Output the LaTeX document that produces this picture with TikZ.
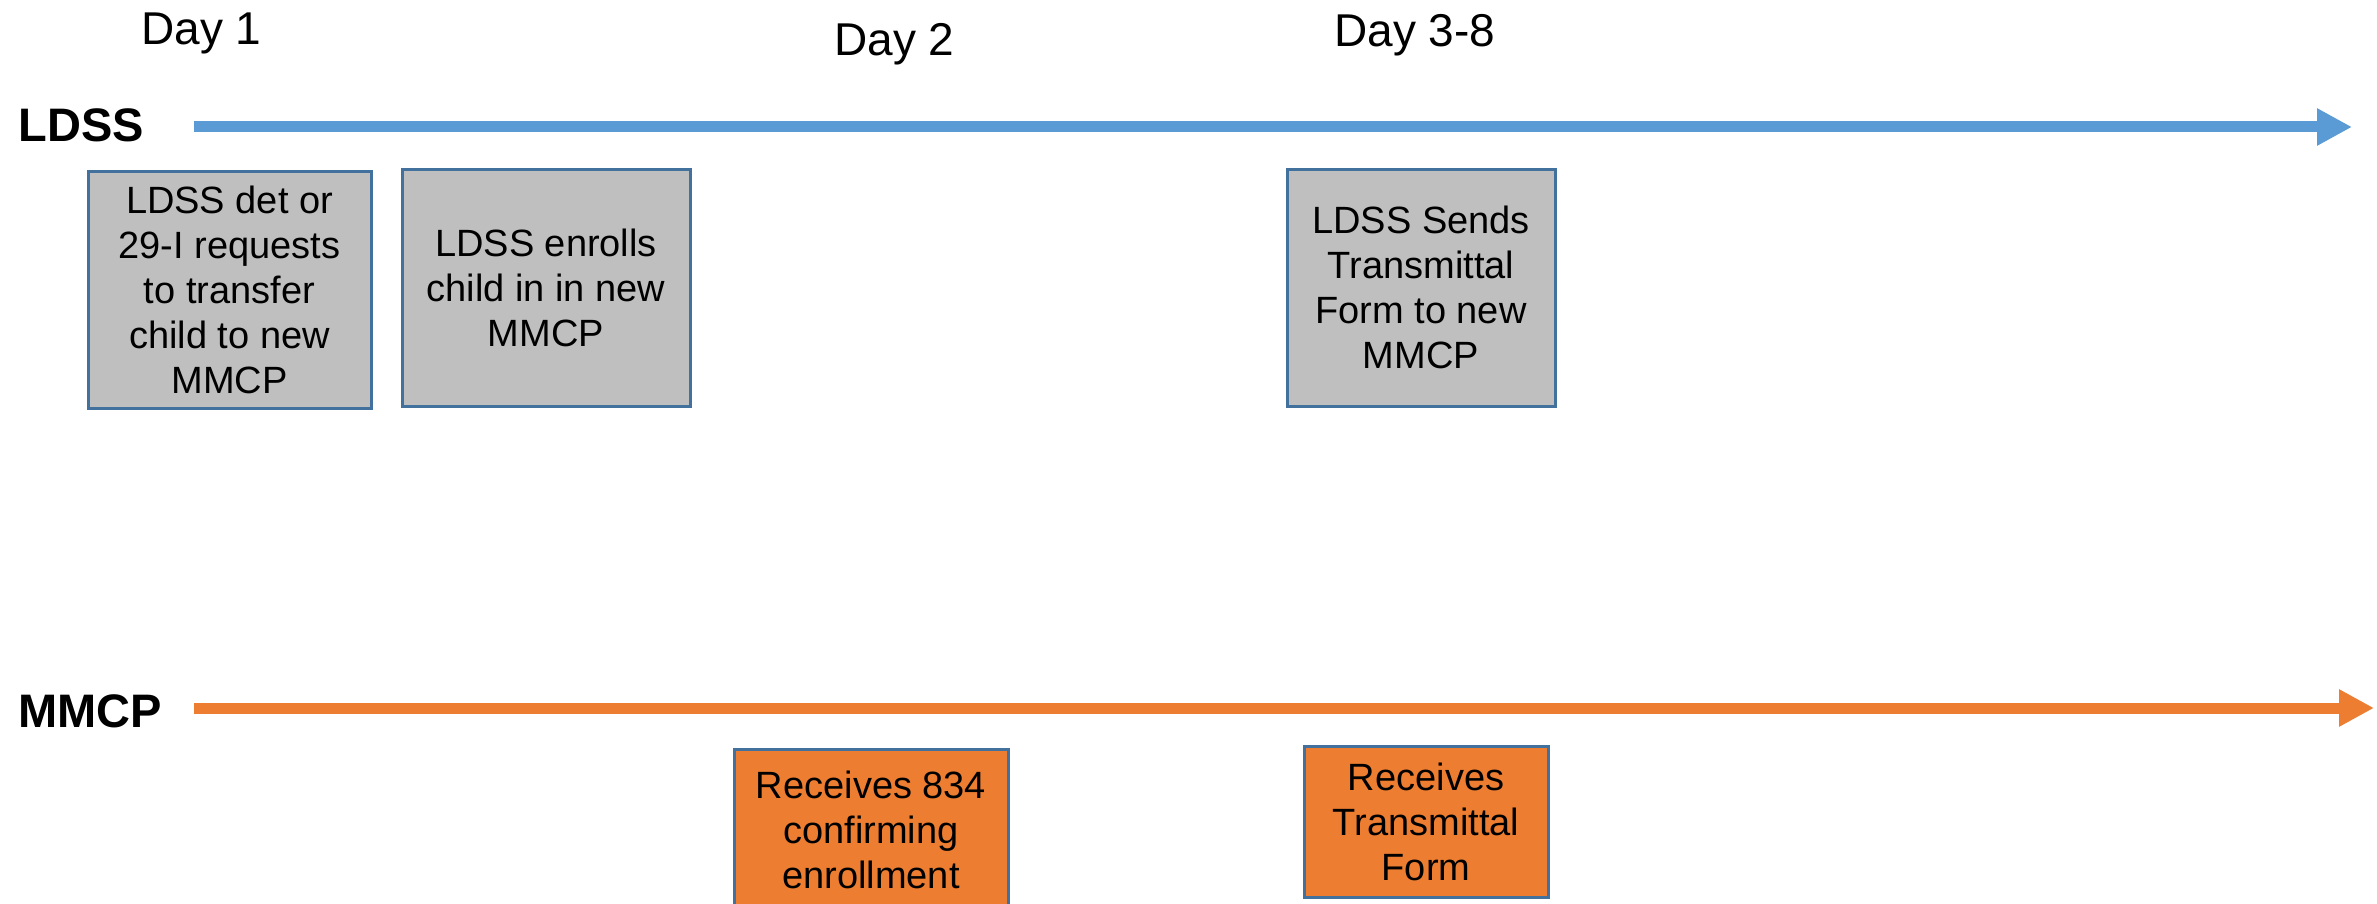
\documentclass[tikz,border=0pt]{standalone}
\usepackage{fontspec}
\setmainfont{Liberation Sans}
\usetikzlibrary{arrows.meta}
\definecolor{lineblue}{HTML}{5B9BD5}
\definecolor{lineorange}{HTML}{ED7D31}
\definecolor{boxgray}{HTML}{BFBFBF}
\definecolor{boxedge}{HTML}{41719C}
\tikzset{
  daylabel/.style={anchor=base west, inner sep=0pt, font=\fontsize{23}{27}\selectfont},
  lanelabel/.style={anchor=base west, inner sep=0pt, font=\fontsize{23.5}{28}\selectfont\bfseries},
  taskbox/.style={draw=boxedge, line width=1.5pt, inner sep=0pt, align=center,
    font=\fontsize{19}{22.5}\selectfont},
  graybox/.style={taskbox, fill=boxgray},
  orangebox/.style={taskbox, fill=lineorange},
  timeline/.style={line width=5.5pt, -{Triangle[length=17.5pt,width=17.5pt]}},
}
\begin{document}
\begin{tikzpicture}[x=0.5pt,y=-0.5pt]
\useasboundingbox (0,0) rectangle (2377,904);
\clip (0,0) rectangle (2377,904);
% day labels
\node[daylabel] (d1) at (141,45) {Day 1};
\node[daylabel] (d2) at (834,56) {Day 2};
\node[daylabel] (d3) at (1334,47) {Day 3-8};
% lane labels
\node[lanelabel] (ldss) at (18,141) {LDSS};
\node[lanelabel] (mmcp) at (18,727) {MMCP};
% timelines
\coordinate (ls) at (194,127);
\coordinate (le) at (2352,127);
\coordinate (ms) at (194,708);
\coordinate (me) at (2374,708);
\draw[timeline, lineblue] (ls) -- (le);
\draw[timeline, lineorange] (ms) -- (me);
% LDSS boxes
\node[graybox, minimum width=141.5pt, minimum height=118.5pt] (b1) at (229.5,289.5)
  {LDSS det or\\29-I requests\\to transfer\\child to new\\MMCP};
\node[graybox, minimum width=144pt, minimum height=118.5pt] (b2) at (546,287.5)
  {LDSS enrolls\\child in in new\\MMCP};
\node[graybox, minimum width=134pt, minimum height=118.5pt] (b3) at (1421,287.5)
  {LDSS Sends\\Transmittal\\Form to new\\MMCP};
% MMCP boxes
\node[orangebox, minimum width=137pt, minimum height=81pt] (b4) at (871,830)
  {Receives 834\\confirming\\enrollment};
\node[orangebox, minimum width=122pt, minimum height=75.5pt] (b5) at (1426,821.5)
  {Receives\\Transmittal\\Form};
\end{tikzpicture}
\end{document}
